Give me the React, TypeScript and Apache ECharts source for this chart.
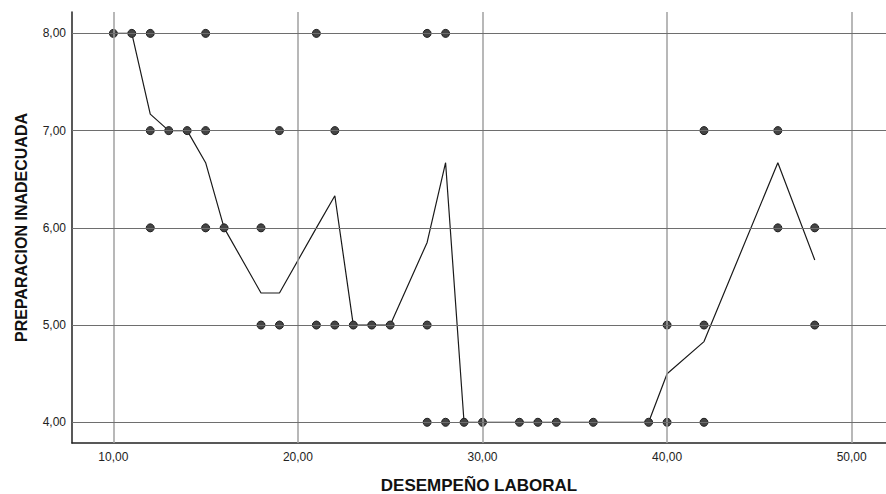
import React, { useEffect, useRef } from "react";
import * as echarts from "echarts";

// Observed points (DESEMPEÑO LABORAL, PREPARACION INADECUADA)
const pointsAt8: number[] = [10, 11, 12, 15, 21, 27, 28];
const pointsAt7: number[] = [12, 13, 14, 15, 19, 22, 42, 46];
const pointsAt6: number[] = [12, 15, 16, 18, 46, 48];
const pointsAt5: number[] = [18, 19, 21, 22, 23, 24, 25, 27, 40, 42, 48];
const pointsAt4: number[] = [27, 28, 29, 30, 32, 33, 34, 36, 39, 40, 42];

// Mean line (x, mean y)
const lineX: number[] = [10, 11, 12, 13, 14, 15, 16, 18, 19, 21, 22, 23, 24, 25, 27, 28, 29, 30, 32, 33, 34, 36, 39, 40, 42, 46, 48];
const lineY: number[] = [8, 8, 7.17, 7, 7, 6.67, 6, 5.33, 5.33, 6, 6.33, 5, 5, 5, 5.85, 6.67, 4, 4, 4, 4, 4, 4, 4, 4.5, 4.83, 6.67, 5.67];

const xTicks: number[] = [10, 20, 30, 40, 50];
const yTicks: number[] = [4, 5, 6, 7, 8];

const fmt = (v: number) => Number(v).toFixed(2).replace(".", ",");

export default function App() {
  const ref = useRef<HTMLDivElement>(null);
  useEffect(() => {
    if (!ref.current) return;
    const chart = echarts.init(ref.current, null, { renderer: "svg" });
    const scatterData: number[][] = [];
    const groups: [number, number[]][] = [
      [8, pointsAt8],
      [7, pointsAt7],
      [6, pointsAt6],
      [5, pointsAt5],
      [4, pointsAt4],
    ];
    groups.forEach(([y, xs]) => xs.forEach((x) => scatterData.push([x, y])));
    const font = "Liberation Sans, Arial, sans-serif";
    chart.setOption({
      animation: false,
      backgroundColor: "#ffffff",
      grid: { left: 72, right: 0, top: 12, bottom: 51, containLabel: false, outerBoundsMode: "none" },
      xAxis: {
        type: "value",
        min: 7.76,
        max: 51.86,
        name: "DESEMPEÑO LABORAL",
        nameLocation: "middle",
        nameGap: 34,
        nameTextStyle: { fontFamily: font, fontWeight: "bold", fontSize: 17, color: "#111" },
        axisLine: { show: true, onZero: false, lineStyle: { color: "#222", width: 1.5 } },
        axisTick: { show: false },
        splitLine: { show: false },
        axisLabel: {
          customValues: xTicks,
          formatter: (v: number) => fmt(v),
          fontFamily: font,
          fontSize: 12,
          color: "#222",
          margin: 8,
        },
      },
      yAxis: {
        type: "value",
        min: 3.787,
        max: 8.22,
        name: "PREPARACION INADECUADA",
        nameLocation: "middle",
        nameGap: 43,
        nameTextStyle: { fontFamily: font, fontWeight: "bold", fontSize: 16, color: "#111" },
        axisLine: { show: true, onZero: false, lineStyle: { color: "#222", width: 1.5 } },
        axisTick: { show: false },
        splitLine: { show: false },
        axisLabel: {
          customValues: yTicks,
          formatter: (v: number) => fmt(v),
          fontFamily: font,
          fontSize: 12,
          color: "#222",
          margin: 6,
        },
      },
      series: [
        {
          type: "line",
          z: 2,
          data: lineX.map((x, i) => [x, lineY[i]]),
          showSymbol: false,
          symbol: "none",
          lineStyle: { color: "#1a1a1a", width: 1.2 },
          silent: true,
          markLine: {
            silent: true,
            symbol: "none",
            label: { show: false },
            animation: false,
            data: [
              ...xTicks.map((x) => ({ xAxis: x, lineStyle: { color: "#a0a0a0", width: 1.5, type: "solid" } })),
              ...yTicks.map((y) => ({ yAxis: y, lineStyle: { color: "#6e6e6e", width: 1, type: "solid" } })),
            ],
          },
        },
        {
          type: "scatter",
          z: 3,
          data: scatterData,
          symbol: "circle",
          symbolSize: 8,
          itemStyle: { color: "#444444", borderColor: "#1e1e1e", borderWidth: 1, opacity: 1 },
          silent: true,
        },
      ],
    });
    return () => chart.dispose();
  }, []);
  return (
    <div
      ref={ref}
      style={{ position: "fixed", left: 0, top: 0, width: 886, height: 494, background: "#fff" }}
    />
  );
}
